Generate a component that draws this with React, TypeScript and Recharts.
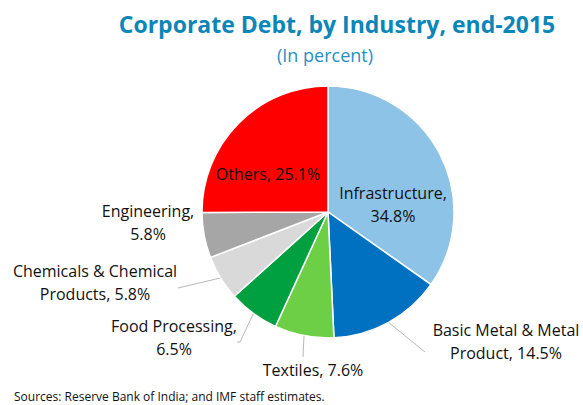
import React from "react";
import { PieChart, Pie, Cell } from "recharts";

const industries = [
  "Infrastructure",
  "Basic Metal & Metal Product",
  "Textiles",
  "Food Processing",
  "Chemicals & Chemical Products",
  "Engineering",
  "Others",
];
const shares = [34.8, 14.5, 7.6, 6.5, 5.8, 5.8, 25.1];
// how each label is broken into lines (text only)
const labelLines = [
  ["Infrastructure,", "34.8%"],
  ["Basic Metal & Metal", "Product, 14.5%"],
  ["Textiles, 7.6%"],
  ["Food Processing,", "6.5%"],
  ["Chemicals & Chemical", "Products, 5.8%"],
  ["Engineering,", "5.8%"],
  ["Others, 25.1%"],
];

const COLORS = ["#8DC3E6", "#0070C0", "#6DCF45", "#00A040", "#D9D9D9", "#A6A6A6", "#FF0000"];
const FONT = "'Open Sans', 'Noto Sans', sans-serif";

// label placement relative to pie centre: x, first-line y, leader end (null = no leader)
const LABEL_LAYOUT = [
  { x: 65, y: -19, end: null },
  { x: 178, y: 118, end: [[97, 140]] },
  { x: -15, y: 158, end: [[-25, 145]] },
  { x: -154, y: 114, end: [[-88, 130], [-91, 130]] },
  { x: -233, y: 59, end: [[-150, 76]] },
  { x: -180, y: -1, end: null },
  { x: -60, y: -38, end: null },
];

const data = industries.map((name, i) => ({ name, value: shares[i] }));

const RAD = Math.PI / 180;

function renderLabel(props: any) {
  const { cx, cy, midAngle, outerRadius, index } = props;
  const lay = LABEL_LAYOUT[index];
  const lines = labelLines[index];
  let leader = null;
  if (lay.end) {
    const sx = cx + outerRadius * Math.cos(-midAngle * RAD);
    const sy = cy + outerRadius * Math.sin(-midAngle * RAD);
    const pts = [[sx, sy], ...lay.end.map(([dx, dy]) => [cx + dx, cy + dy])];
    leader = (
      <polyline
        points={pts.map((p) => p.join(",")).join(" ")}
        fill="none"
        stroke="#A6A6A6"
        strokeWidth={0.8}
      />
    );
  }
  return (
    <g key={`lbl-${index}`}>
      {leader}
      <text
        x={cx + lay.x}
        y={cy + lay.y}
        textAnchor="middle"
        dominantBaseline="central"
        fontFamily={FONT}
        fontSize={16}
        fill="#111"
      >
        {lines.map((l, j) => (
          <tspan key={j} x={cx + lay.x} dy={j === 0 ? 0 : 23}>
            {l}
          </tspan>
        ))}
      </text>
    </g>
  );
}

export default function App() {
  return (
    <div
      style={{
        position: "absolute",
        left: 0,
        top: 0,
        width: 583,
        height: 405,
        background: "#fff",
        fontFamily: FONT,
      }}
    >
      <div
        style={{
          position: "absolute",
          top: 9,
          left: 0,
          width: 583,
          paddingLeft: 91,
          boxSizing: "border-box",
          textAlign: "center",
          color: "#0B86B6",
          fontWeight: 700,
          fontSize: 23,
          lineHeight: "30px",
        }}
      >
        Corporate Debt, by Industry, end-2015
      </div>
      <div
        style={{
          position: "absolute",
          top: 44,
          left: 0,
          width: 583,
          paddingLeft: 67,
          boxSizing: "border-box",
          textAlign: "center",
          color: "#2A8FC0",
          fontSize: 18,
          lineHeight: "22px",
        }}
      >
        (In percent)
      </div>
      <PieChart
        width={583}
        height={405}
        margin={{ top: 0, right: 0, bottom: 0, left: 0 }}
        style={{ position: "absolute", left: 0, top: 0 }}
      >
        <Pie
          data={data}
          dataKey="value"
          nameKey="name"
          cx={328}
          cy={212}
          outerRadius={126}
          startAngle={90}
          endAngle={-270}
          stroke="#fff"
          strokeWidth={1.5}
          label={renderLabel}
          labelLine={false}
          isAnimationActive={false}
        >
          {data.map((d, i) => (
            <Cell key={d.name} fill={COLORS[i]} />
          ))}
        </Pie>
      </PieChart>
      <div
        style={{
          position: "absolute",
          left: 14,
          top: 389,
          fontSize: 12,
          color: "#111",
          lineHeight: "16px",
        }}
      >
        Sources: Reserve Bank of India; and IMF staff estimates.
      </div>
    </div>
  );
}
